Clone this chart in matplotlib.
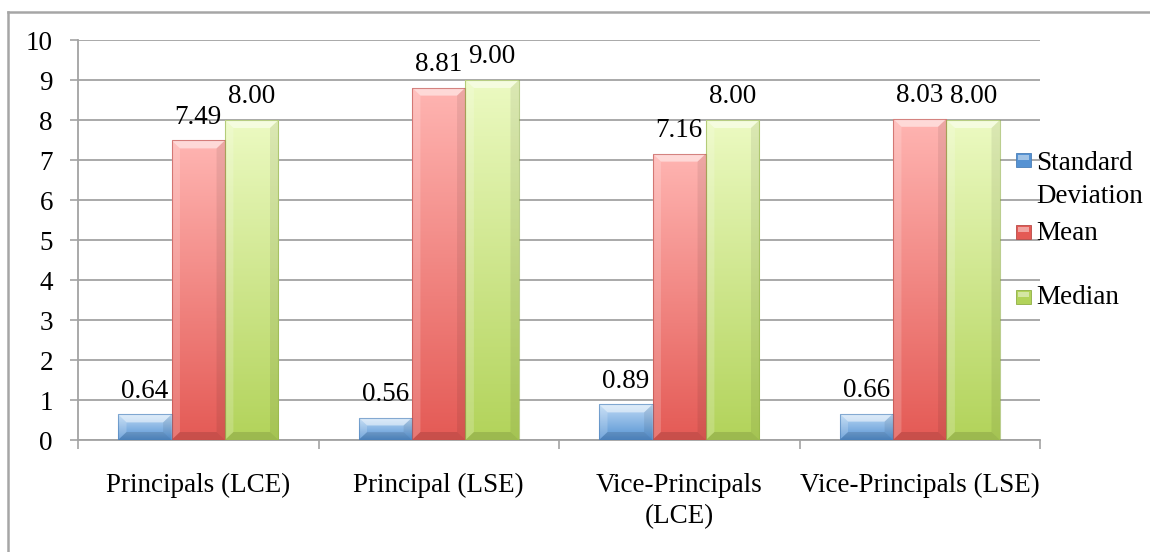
import numpy as np
import matplotlib
matplotlib.use("Agg")
import matplotlib.pyplot as plt
from matplotlib.patches import Polygon, Rectangle
from matplotlib.lines import Line2D
from matplotlib.colors import LinearSegmentedColormap

# ---- data ----
categories = ["Principals (LCE)", "Principal (LSE)", "Vice-Principals\n(LCE)", "Vice-Principals (LSE)"]
series_names = ["Standard\nDeviation", "Mean", "Median"]
std_dev = [0.64, 0.56, 0.89, 0.66]
mean = [7.49, 8.81, 7.16, 8.03]
median = [8.00, 9.00, 8.00, 8.00]
y_ticks = list(range(0, 11))

# gradient (top colour, bottom colour) per series
gradients = [("#BFDBF5", "#5592D3"), ("#FFB5B2", "#E45A55"), ("#ECFAC2", "#B2D35A")]
edge_colors = ["#4A7FB8", "#B84A46", "#8FAE45"]

W, H = 1150, 552
fig = plt.figure(figsize=(W / 100, H / 100), dpi=100)
ax = fig.add_axes([78 / W, 1 - 440 / H, (1040 - 78) / W, 400 / H])

FONT = "Liberation Serif"
FS = 19.5
grid_c = "#A3A3A3"

n = len(categories)
bw = 1 / 4.5
x = np.arange(n)
all_series = [std_dev, mean, median]

grad = np.linspace(0, 1, 256).reshape(-1, 1)

for si, vals in enumerate(all_series):
    offs = (si - 1) * bw
    bars = ax.bar(x + offs, vals, width=bw, color="none", edgecolor="none", zorder=3)
    cmap = LinearSegmentedColormap.from_list(f"g{si}", [gradients[si][1], gradients[si][0]])
    for b, v in zip(bars, vals):
        x0, wdt, h = b.get_x(), b.get_width(), b.get_height()
        x1 = x0 + wdt
        im = ax.imshow(grad, cmap=cmap, extent=[x0, x1, 0, h], origin="lower",
                       aspect="auto", zorder=3)
        im.set_clip_path(b)
        # bevel facets
        bx = 0.035
        by = min(0.2, h * 0.35)
        facets = [
            ([(x0, h), (x1, h), (x1 - bx, h - by), (x0 + bx, h - by)], "white", 0.5),
            ([(x0, 0), (x0, h), (x0 + bx, h - by), (x0 + bx, by)], "white", 0.18),
            ([(x1, 0), (x1, h), (x1 - bx, h - by), (x1 - bx, by)], "black", 0.07),
            ([(x0, 0), (x1, 0), (x1 - bx, by), (x0 + bx, by)], "black", 0.12),
        ]
        for pts, c, a in facets:
            ax.add_patch(Polygon(pts, closed=True, facecolor=c, alpha=a,
                                 edgecolor="none", zorder=4))
        ax.add_patch(Rectangle((x0, 0), wdt, h, facecolor="none",
                               edgecolor=edge_colors[si], linewidth=0.8, alpha=0.6, zorder=5))
        ax.annotate(f"{v:.2f}", (x0 + wdt / 2, h), xytext=(0, 12),
                    textcoords="offset points", ha="center", va="baseline",
                    fontsize=FS, family=FONT, color="black", zorder=6)

ax.set_xlim(-0.5, n - 0.5)
ax.set_ylim(0, 10)
ax.set_yticks(y_ticks)
ax.set_yticklabels([str(t) for t in y_ticks], family=FONT, fontsize=FS)
ax.set_xticks(np.arange(-0.5, n, 1.0))
ax.set_xticklabels([])
ax.set_xticks(x, minor=True)
ax.set_xticklabels(categories, minor=True, family=FONT, fontsize=FS, linespacing=1.3)
ax.tick_params(axis="x", which="minor", length=0, pad=24)
ax.tick_params(axis="x", which="major", length=6.5, width=1.2, color=grid_c, direction="out")
ax.tick_params(axis="y", length=6, width=1.2, color=grid_c, direction="out", pad=12)
for lab in ax.get_xticklabels(minor=True):
    lab.set_verticalalignment("top")

ax.yaxis.grid(True, color=grid_c, linewidth=1.3, zorder=0)
ax.set_axisbelow(True)
for s in ["top", "right"]:
    ax.spines[s].set_visible(False)
ax.spines["left"].set_color(grid_c)
ax.spines["left"].set_linewidth(1.3)
ax.spines["bottom"].set_color(grid_c)
ax.spines["bottom"].set_linewidth(1.3)

# legend, drawn in pixel-based figure coordinates
leg_items = [(160, [164, 197]), (232, [233]), (297, [298])]
for si, (my, text_ys) in enumerate(leg_items):
    fx0, fy = 1016 / W, 1 - (my + 7) / H
    fig.patches.append(Rectangle((fx0, fy), 15 / W, 14 / H, transform=fig.transFigure,
                                 facecolor=gradients[si][1], edgecolor=edge_colors[si],
                                 linewidth=0.6))
    fig.patches.append(Rectangle((fx0 + 2 / W, fy + 7 / H), 11 / W, 5 / H,
                                 transform=fig.transFigure, facecolor="white",
                                 alpha=0.45, edgecolor="none"))
    lines = series_names[si].split("\n")
    for ln, ty in zip(lines, text_ys):
        fig.text(1036 / W, 1 - ty / H, ln, ha="left", va="center",
                 family=FONT, fontsize=FS)

# outer frame
fig.add_artist(Line2D([8 / W, 1], [1 - 12 / H, 1 - 12 / H], transform=fig.transFigure,
                      color="#A6A6A6", linewidth=1.8))
fig.add_artist(Line2D([8 / W, 8 / W], [1 - 12 / H, 0], transform=fig.transFigure,
                      color="#A6A6A6", linewidth=1.8))

fig.savefig("out.png", dpi=100)
